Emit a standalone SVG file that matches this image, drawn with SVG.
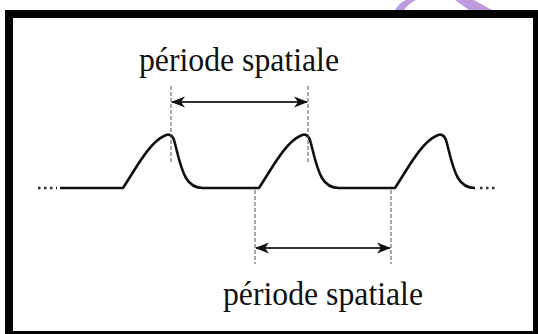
<svg xmlns="http://www.w3.org/2000/svg" width="538" height="334" viewBox="0 0 538 334">
  <defs>
    <style>
      .lbl { font-family: "Liberation Serif", "Times New Roman", serif; font-size: 33px; fill: #111; }
      .dash { stroke: #555; stroke-width: 1; stroke-dasharray: 4 2; fill: none; }
      .arrow { stroke: #333; stroke-width: 2; fill: none; marker-start: url(#ah); marker-end: url(#ah); }
      .wave { stroke: #111; stroke-width: 2.6; fill: none; stroke-linejoin: round; }
      .dots { stroke: #333; stroke-width: 2.6; stroke-dasharray: 2.5 3.5; fill: none; }
      .wm { fill: #b38ad8; opacity: 0.85; }
    </style>
    <marker id="ah" viewBox="0 0 14 12" refX="13" refY="6" markerWidth="14" markerHeight="12" markerUnits="userSpaceOnUse" orient="auto-start-reverse">
      <path d="M0,0.5 L14,6 L0,11.5 L4,6 Z" fill="#111"/>
    </marker>
  </defs>

  <rect width="538" height="334" fill="#fff"/>

  <g id="watermark">
    <path class="wm" d="M395,10 Q399,3 406,0 L416,0 Q408,4 404,10 Z"/>
    <path class="wm" d="M455,0 L474,0 L492,10 L469,10 Z"/>
  </g>

  <g id="frame">
    <path fill="#000" fill-rule="evenodd" d="M5,10 H538 V334 H5 Z M13,18 V331 H533 V18 Z"/>
  </g>

  <g id="waveform">
    <path class="dots" d="M38,188 H57"/>
    <path class="wave" d="M60,188 H123
      C136,168 150,142 164,136 Q171,132 174,140 C177,150 180,168 186,178 C190,185 195,188 203,188
      H259
      C272,168 286,142 300,136 Q307,132 310,140 C313,150 316,168 322,178 C326,185 331,188 339,188
      H395
      C408,168 422,142 436,136 Q443,132 446,140 C449,150 452,168 458,178 C462,185 467,188 475,188"/>
    <path class="dots" d="M480,188 H497"/>
  </g>

  <g id="connectors">
    <path class="dash" d="M171,86 V163"/>
    <path class="dash" d="M308,86 V163"/>
    <path class="dash" d="M255,190 V264"/>
    <path class="dash" d="M391,190 V264"/>
    <path class="arrow" d="M172,102 H307"/>
    <path class="arrow" d="M256,248 H390"/>
  </g>

  <g id="label-top">
    <text class="lbl" x="139" y="71" textLength="200" lengthAdjust="spacingAndGlyphs">période spatiale</text>
  </g>
  <g id="label-bottom">
    <text class="lbl" x="223" y="305" textLength="200" lengthAdjust="spacingAndGlyphs">période spatiale</text>
  </g>
</svg>
